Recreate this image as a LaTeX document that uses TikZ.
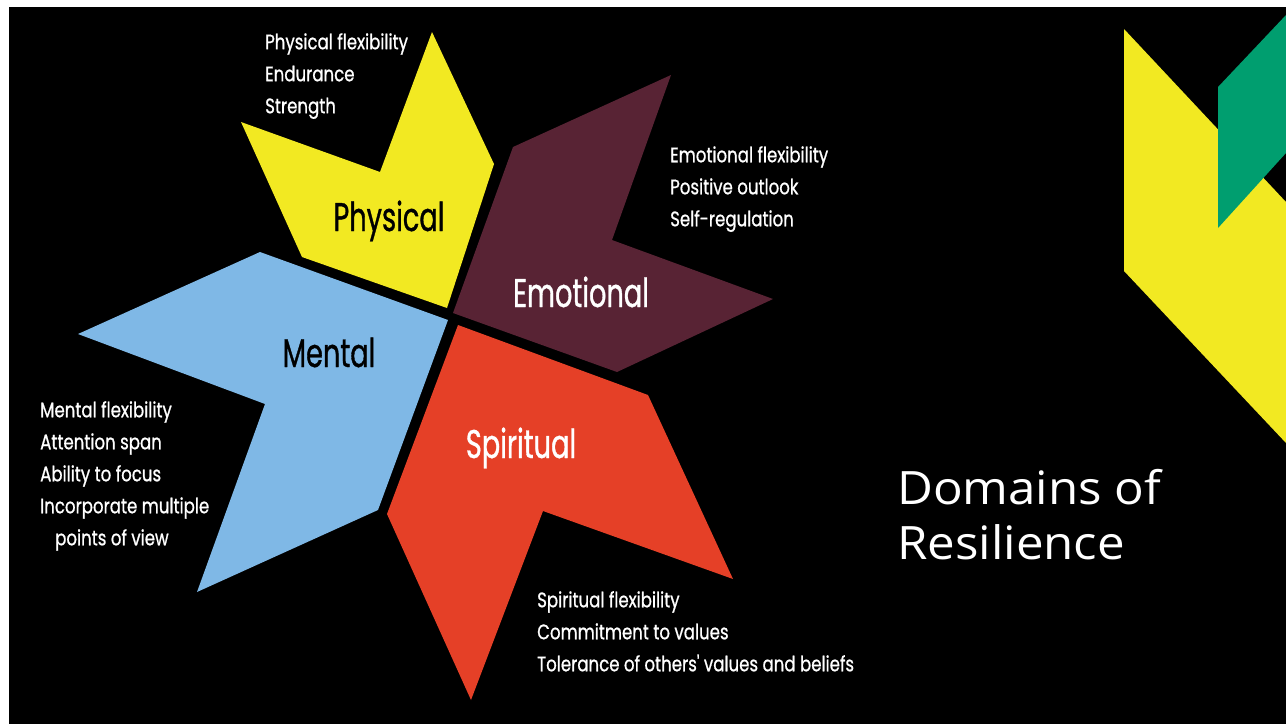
\documentclass[tikz,border=0pt]{standalone}
\usepackage{fontspec}
\setmainfont[FakeStretch=1.07]{Open Sans}
\newfontfamily\starfont[FakeStretch=0.68,FakeBold=0.8]{Poppins}
\newfontfamily\facetfont[FakeStretch=0.79,FakeBold=0.8]{Poppins}
\definecolor{physyellow}{HTML}{F2E922}
\definecolor{emomaroon}{HTML}{582334}
\definecolor{mentblue}{HTML}{7FB8E6}
\definecolor{spirred}{HTML}{E54027}
\definecolor{decogreen}{HTML}{009E6F}

\begin{document}
\begin{tikzpicture}[x=1pt,y=-1pt]
    \tikzset{domainname/.style = {font=\starfont\fontsize{40}{40}\selectfont,inner sep=0pt,anchor=base}}
    \tikzset{facets/.style = {font=\facetfont\fontsize{21}{32}\selectfont,text=white,align=left,anchor=north west,inner sep=0pt}}
    \useasboundingbox (0,0) rectangle (1286,724);
    % background
    \fill[white] (0,0) rectangle (1286,724);
    \fill[black] (9,7) rectangle (1286,724);
    % petals
    \fill[physyellow] (432,32) -- (494,164) -- (447,308) -- (302,257) -- (241,122) -- (380,172) -- cycle;
    \fill[emomaroon] (671,75) -- (612,240) -- (773,299) -- (617,372) -- (453,313) -- (513,147) -- cycle;
    \fill[mentblue] (260,252) -- (448,320) -- (378,510) -- (197,592) -- (265,404) -- (78,334) -- cycle;
    \fill[spirred] (458,325) -- (648,395) -- (733,579) -- (543,511) -- (471,700) -- (387,514) -- cycle;
    % corner shapes
    \fill[physyellow] (1124,29) -- (1286,202) -- (1286,443) -- (1124,271) -- cycle;
    \fill[decogreen] (1218,87) -- (1286,15) -- (1286,153) -- (1218,228) -- cycle;
    % domain names
    \node[domainname,text=black] (phys) at (389,231) {Physical};
    \node[domainname,text=white] (emo) at (581,307) {Emotional};
    \node[domainname,text=black] (ment) at (329,367) {Mental};
    \node[domainname,text=white] (spir) at (521,458) {Spiritual};
    % facets
    \node[facets] (physlist) at (265,33) {Physical flexibility\\ Endurance\\ Strength};
    \node[facets] (emolist) at (670,146) {Emotional flexibility\\ Positive outlook\\ Self-regulation};
    \node[facets] (mentlist) at (40,401) {Mental flexibility\\ Attention span\\ Ability to focus\\ Incorporate multiple\\ \hspace*{15pt}points of view};
    \node[facets] (spirlist) at (537,591) {Spiritual flexibility\\ Commitment to values\\ Tolerance of others' values and beliefs};
    % title
    \node[font=\fontsize{46}{55}\selectfont,text=white,align=left,anchor=north west,inner sep=0pt] (title) at (897,469) {Domains of\\ Resilience};
\end{tikzpicture}
\end{document}
